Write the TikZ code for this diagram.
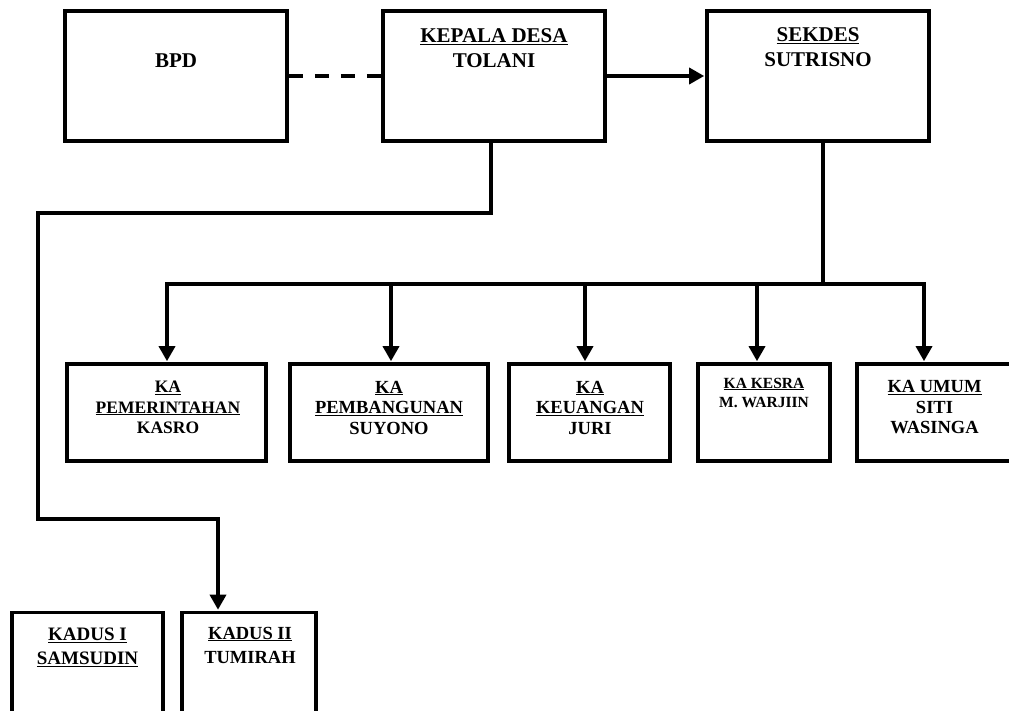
\documentclass[tikz,border=0pt]{standalone}
\usepackage{fontspec}
\setmainfont{Liberation Serif}
\usetikzlibrary{arrows.meta}
\begin{document}
\begin{tikzpicture}[x=1pt,y=-1pt,
  box/.style={draw, line width=3.6pt, inner sep=0pt},
  conn/.style={line width=3.4pt},
  arr/.style={line width=3.4pt, -{Triangle[length=15pt,width=16pt]}, shorten >=1pt},
  dashconn/.style={line width=3.4pt, dash pattern=on 14pt off 12pt},
  big/.style={align=center, inner sep=0pt, font=\bfseries\fontsize{21}{25}\selectfont},
  mid/.style={align=center, inner sep=0pt, font=\bfseries\fontsize{18.5}{20.5}\selectfont},
  small/.style={align=center, inner sep=0pt, font=\bfseries\fontsize{15.5}{19}\selectfont},
  kad/.style={align=center, inner sep=0pt, font=\bfseries\fontsize{19}{24}\selectfont}
]
\clip (0,0) rectangle (1009,711);
\fill[white] (0,0) rectangle (1009,711);
% top row
\node[box, minimum width=222pt, minimum height=130pt] (bpd) at (176,76) {};
\node[box, minimum width=222pt, minimum height=130pt] (kd) at (494,76) {};
\node[box, minimum width=222pt, minimum height=130pt] (sk) at (818,76) {};
\node[big] (tbpd) at (176,61) {BPD};
\node[big] (tkd) at (494,48.5) {\underline{KEPALA DESA}\\TOLANI};
\node[big] (tsk) at (818,47.5) {\underline{SEKDES}\\SUTRISNO};
% middle row
\node[box, minimum width=199pt, minimum height=97pt] (pem) at (166.5,412.5) {};
\node[box, minimum width=198pt, minimum height=97pt] (pbg) at (389,412.5) {};
\node[box, minimum width=161pt, minimum height=97pt] (keu) at (589.5,412.5) {};
\node[box, minimum width=132pt, minimum height=97pt] (kes) at (764,412.5) {};
\node[box, minimum width=155pt, minimum height=97pt] (umu) at (934.5,412.5) {};
\node[mid, font=\bfseries\fontsize{17.5}{20.5}\selectfont] (tpem) at (168,407.5) {\underline{KA}\\\underline{PEMERINTAHAN}\\KASRO};
\node[mid] (tpbg) at (389,407.5) {\underline{KA}\\\underline{PEMBANGUNAN}\\SUYONO};
\node[mid] (tkeu) at (590,407.5) {\underline{KA}\\\underline{KEUANGAN}\\JURI};
\node[small] (tkes) at (764,392.5) {\underline{KA KESRA}\\M. WARJIIN};
\node[mid] (tumu) at (934.5,407.5) {\underline{KA UMUM}\\SITI\\WASINGA};
% bottom row
\node[box, minimum width=151pt, minimum height=166pt] (k1) at (87.5,695.5) {};
\node[box, minimum width=134pt, minimum height=166pt] (k2) at (249,695.5) {};
\node[kad] (tk1) at (87.5,647) {\underline{KADUS I}\\\underline{SAMSUDIN}};
\node[kad, font=\bfseries\fontsize{18.5}{24}\selectfont] (tk2) at (250,645) {\underline{KADUS II}\\TUMIRAH};
% connectors top
\draw[dashconn] (bpd.east) -- (kd.west);
\draw[arr] (kd.east) -- (sk.west);
% kepala desa to kadus II
\coordinate (ka) at (491,213);
\coordinate (kb) at (38,213);
\coordinate (kc) at (38,519);
\coordinate (ke) at (218,519);
\draw[arr] (kd.south -| ka) -- (ka) -- (kb) -- (kc) -- (ke) -- (ke |- k2.north);
% sekdes bus
\coordinate (sb) at (823,284);
\coordinate (p1) at (167,284);
\coordinate (p2) at (391,284);
\coordinate (p3) at (585,284);
\coordinate (p4) at (757,284);
\coordinate (p5) at (924,284);
\draw[conn] (sk.south -| sb) -- (sb);
\draw[conn] ([xshift=-1.7pt]p1) -- ([xshift=1.7pt]p5);
\draw[arr] ([yshift=-1.7pt]p1) -- (p1 |- pem.north);
\draw[arr] (p2) -- (p2 |- pbg.north);
\draw[arr] (p3) -- (p3 |- keu.north);
\draw[arr] (p4) -- (p4 |- kes.north);
\draw[arr] ([yshift=-1.7pt]p5) -- (p5 |- umu.north);
\end{tikzpicture}
\end{document}
